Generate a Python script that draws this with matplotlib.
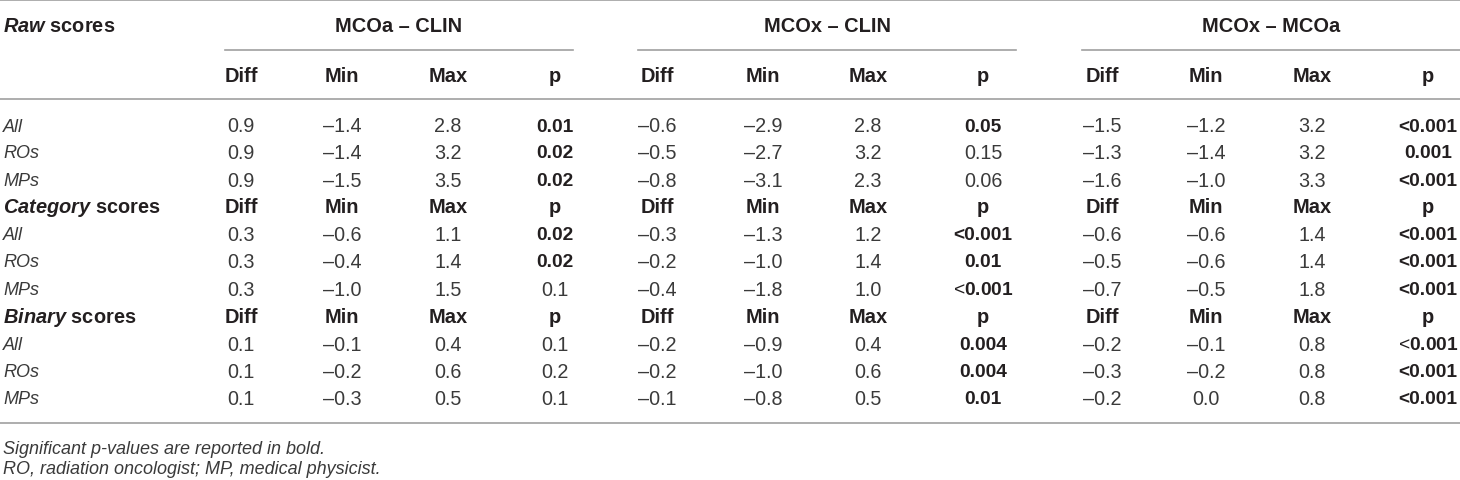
import matplotlib
matplotlib.use("Agg")
import matplotlib.pyplot as plt

plt.rcParams['font.family'] = ['Liberation Sans', 'DejaVu Sans']
plt.rcParams['mathtext.fontset'] = 'custom'
plt.rcParams['mathtext.rm'] = 'Liberation Sans'
plt.rcParams['mathtext.bf'] = 'Liberation Sans:bold'
plt.rcParams['mathtext.it'] = 'Liberation Sans:italic'
plt.rcParams['mathtext.bfit'] = 'Liberation Sans:italic:bold'

# table content
groups = ["MCOa \u2013 CLIN", "MCOx \u2013 CLIN", "MCOx \u2013 MCOa"]
stats = ["Diff", "Min", "Max", "p"]
sections = ["Raw", "Category", "Binary"]
row_labels = ["All", "ROs", "MPs"]

# [section][group][row]
diff_vals = [
    [[0.9, 0.9, 0.9], [-0.6, -0.5, -0.8], [-1.5, -1.3, -1.6]],
    [[0.3, 0.3, 0.3], [-0.3, -0.2, -0.4], [-0.6, -0.5, -0.7]],
    [[0.1, 0.1, 0.1], [-0.2, -0.2, -0.1], [-0.2, -0.3, -0.2]],
]
min_vals = [
    [[-1.4, -1.4, -1.5], [-2.9, -2.7, -3.1], [-1.2, -1.4, -1.0]],
    [[-0.6, -0.4, -1.0], [-1.3, -1.0, -1.8], [-0.6, -0.6, -0.5]],
    [[-0.1, -0.2, -0.3], [-0.9, -1.0, -0.8], [-0.1, -0.2, 0.0]],
]
max_vals = [
    [[2.8, 3.2, 3.5], [2.8, 3.2, 2.3], [3.2, 3.2, 3.3]],
    [[1.1, 1.4, 1.5], [1.2, 1.4, 1.0], [1.4, 1.4, 1.8]],
    [[0.4, 0.6, 0.5], [0.4, 0.6, 0.5], [0.8, 0.8, 0.8]],
]
p_vals = [
    [["0.01", "0.02", "0.02"], ["0.05", "0.15", "0.06"], ["<0.001", "0.001", "<0.001"]],
    [["0.02", "0.02", "0.1"], ["<0.001", "0.01", "<0.001"], ["<0.001", "<0.001", "<0.001"]],
    [["0.1", "0.2", "0.1"], ["0.004", "0.004", "0.01"], ["<0.001", "<0.001", "<0.001"]],
]
# 0 = plain, 1 = bold, 2 = plain "<" with bold number
p_bold = [
    [[1, 1, 1], [1, 0, 0], [1, 1, 1]],
    [[1, 1, 0], [1, 1, 2], [1, 1, 1]],
    [[0, 0, 0], [1, 1, 1], [2, 1, 1]],
]
notes = ["Significant p-values are reported in bold.",
         "RO, radiation oncologist; MP, medical physicist."]

# layout (pixels)
W, H = 1460, 481
col_x = [[241, 342, 448, 555], [657, 763, 868, 983], [1102, 1206, 1312, 1428]]
group_span = [(225, 573), (638, 1016), (1082, 1460)]
txt = '#231f20'
num_col = '#3a3a3a'
rule = '#a0a0a0'
fs = 13.0     # labels, notes
fsn = 14.2    # plain numbers
fsp = 13.8    # bold p values
fsb = 14.4    # bold headers

fig = plt.figure(figsize=(W / 100, H / 100), dpi=100)
ax = fig.add_axes([0, 0, 1, 1])
ax.set_xlim(0, W)
ax.set_ylim(H, 0)
ax.axis('off')


def fmt(v):
    s = "%.1f" % abs(v)
    return ("\u2013" + s) if v < 0 else s


# rules
ax.plot([0, W], [1, 1], color=rule, lw=1.2)
ax.plot([0, W], [100, 100], color=rule, lw=1.2)
ax.plot([0, W], [424, 424], color=rule, lw=1.2)
for g, (x0, x1) in enumerate(group_span):
    ax.plot([x0, x1], [51, 51], color=rule, lw=1.2)
    ax.text((x0 + x1) / 2, 27, groups[g], ha='center', va='center',
            fontsize=fsb, fontweight='bold', color=txt)

head_y = [27, 208, 318]
sub_y = [77, 208, 318]
row_y = [[127, 154, 182], [236, 263, 291], [346, 373, 400]]

for s, name in enumerate(sections):
    ax.text(3, head_y[s], r"$\mathbfit{%s}$ scores" % name, ha='left', va='center',
            fontsize=fsb, fontweight='bold', color=txt)
    for g in range(3):
        for c, st in enumerate(stats):
            ax.text(col_x[g][c], sub_y[s], st, ha='center', va='center',
                    fontsize=fsb, fontweight='bold', color=txt)
    for r, lab in enumerate(row_labels):
        y = row_y[s][r]
        ax.text(3, y, lab, ha='left', va='center', fontsize=fs,
                style='italic', color=num_col)
        for g in range(3):
            cells = [fmt(diff_vals[s][g][r]), fmt(min_vals[s][g][r]),
                     fmt(max_vals[s][g][r])]
            for c, val in enumerate(cells):
                ax.text(col_x[g][c], y, val, ha='center', va='center',
                        fontsize=fsn, color=num_col)
            pv = p_vals[s][g][r]
            b = p_bold[s][g][r]
            if b == 2:
                ax.text(col_x[g][3], y, "<$\\mathbf{%s}$" % pv[1:], ha='center',
                        va='center', fontsize=fsp, color=txt)
            elif b == 1:
                ax.text(col_x[g][3], y, pv, ha='center', va='center',
                        fontsize=fsp, fontweight='bold', color=txt)
            else:
                ax.text(col_x[g][3], y, pv, ha='center', va='center',
                        fontsize=fsn, color=num_col)

for i, n in enumerate(notes):
    ax.text(3, [450, 470][i], n, ha='left', va='center', fontsize=fs,
            style='italic', color=num_col)

fig.savefig("out.png", dpi=100)
